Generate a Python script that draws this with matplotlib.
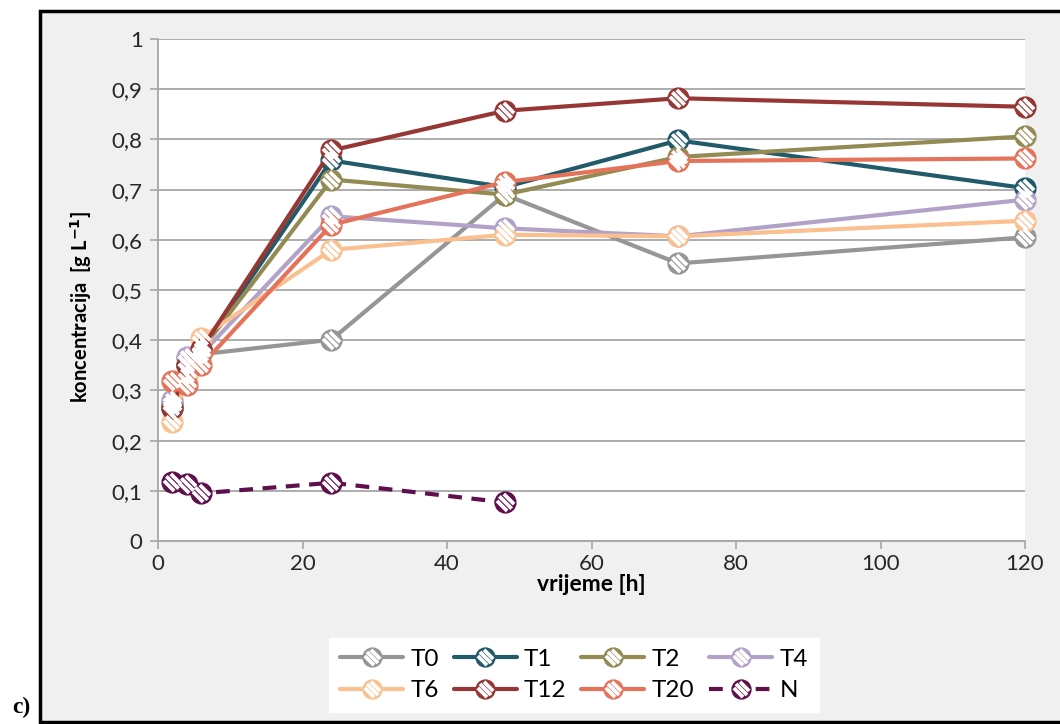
import matplotlib.pyplot as plt
import numpy as np
from matplotlib.path import Path
from matplotlib.patches import Rectangle

# podaci
sati = [2, 4, 6, 24, 48, 72, 120]
sati_N = [2, 4, 6, 24, 48]
T0 = [0.275, 0.365, 0.372, 0.401, 0.690, 0.553, 0.605]
T1 = [0.265, 0.350, 0.380, 0.758, 0.705, 0.798, 0.703]
T2 = [0.270, 0.350, 0.380, 0.720, 0.690, 0.765, 0.806]
T4 = [0.280, 0.367, 0.372, 0.647, 0.623, 0.607, 0.680]
T6 = [0.237, 0.330, 0.405, 0.580, 0.610, 0.607, 0.638]
T12 = [0.264, 0.350, 0.382, 0.778, 0.857, 0.882, 0.865]
T20 = [0.319, 0.311, 0.350, 0.630, 0.715, 0.757, 0.762]
N = [0.118, 0.114, 0.095, 0.116, 0.077]

serije = [("T0", T0, "#969696"), ("T1", T1, "#215a69"), ("T2", T2, "#948a54"),
          ("T4", T4, "#b3a2c7"), ("T6", T6, "#fac090"), ("T12", T12, "#963735"),
          ("T20", T20, "#e5735a")]

plt.rcParams['font.family'] = ['Lato', 'DejaVu Sans']

# marker s bijelim dijagonalnim prugama
def pruge():
    verts, codes = [(1, 1), (-1, -1)], [Path.MOVETO, Path.MOVETO]
    n = np.array([1, 1]) / np.sqrt(2)
    s = np.array([1, -1]) / np.sqrt(2)
    for d in [-0.5, 0.0, 0.5]:
        t = np.sqrt(0.8 - d * d)
        verts += [tuple(d * n - t * s), tuple(d * n + t * s)]
        codes += [Path.MOVETO, Path.LINETO]
    return Path(verts, codes)

stripe = pruge()
MS = 14

fig = plt.figure(figsize=(10.6, 7.24), dpi=100)
fig.patch.set_facecolor('white')
fig.patches.append(Rectangle((40 / 1060, 1 - 722 / 724), 1.1, (722 - 11) / 724,
                             transform=fig.transFigure, facecolor='#f0f0f0',
                             edgecolor='black', linewidth=2.5, zorder=-5))
fig.text(12 / 1060, 1 - 707 / 724, 'c)', fontsize=17, fontweight='bold',
         family='Liberation Serif', va='center')

ax = fig.add_axes([158 / 1060, 1 - 541 / 724, (1025 - 158) / 1060, (541 - 39) / 724])
ax.set_zorder(2)
ax.set_facecolor('white')

handles, labels = [], []
for ime, y, c in serije:
    l1, = ax.plot(sati, y, color=c, lw=3, marker='o', ms=MS, mfc=c, mec=c, mew=2,
                  solid_capstyle='round', clip_on=False, zorder=3)
    l2, = ax.plot(sati, y, ls='none', marker=stripe, ms=MS, mec='white', mew=2.7,
                  clip_on=False, zorder=4)
    handles.append((l1, l2))
    labels.append(ime)

l1, = ax.plot(sati_N, N, color='#5f0f4b', lw=3, ls=(0, (3.3, 2.3)), marker='o', ms=MS,
              mfc='#5f0f4b', mec='#5f0f4b', mew=2, clip_on=False, zorder=3)
l2, = ax.plot(sati_N, N, ls='none', marker=stripe, ms=MS, mec='white', mew=2.7,
              clip_on=False, zorder=4)
handles.append((l1, l2))
labels.append("N")

ax.set_xlim(0, 120)
ax.set_ylim(0, 1)
ax.set_xticks(range(0, 121, 20))
yt = np.round(np.arange(0, 1.01, 0.1), 1)
ax.set_yticks(yt)
ax.set_yticklabels([('%g' % v).replace('.', ',') for v in yt])
ax.tick_params(colors='#a6a6a6', labelcolor='#262626', labelsize=16, width=1.2, length=6)
ax.tick_params(axis='y', pad=5)
ax.yaxis.grid(True, color='#a6a6a6', lw=1.3)
ax.set_axisbelow(True)
for s in ['top', 'right']:
    ax.spines[s].set_visible(False)
for s in ['left', 'bottom']:
    ax.spines[s].set_color('#a6a6a6')
    ax.spines[s].set_linewidth(1.3)

ax.set_xlabel('vrijeme [h]', fontsize=16.5, fontweight='bold', labelpad=0)
ax.set_ylabel('koncentracija  [g L$^{\\mathbf{-1}}$]', fontsize=14.5, fontweight='bold')
ax.yaxis.set_label_coords(-0.074, 0.466)

# legenda se puni po stupcima, pa redoslijed prilagodimo za dva retka
red = [0, 4, 1, 5, 2, 6, 3, 7]
leg = fig.legend([handles[i] for i in red], [labels[i] for i in red], loc='center',
                 bbox_to_anchor=(574 / 1060, 1 - 675 / 724),
                 ncol=4, fontsize=17.5, frameon=True, fancybox=False, edgecolor='white',
                 facecolor='white', framealpha=1, handlelength=2.6, markerscale=0.9,
                 columnspacing=0.6, handletextpad=0.3, borderpad=0.45, labelspacing=0.45)

fig.savefig('out.png', dpi=100)
